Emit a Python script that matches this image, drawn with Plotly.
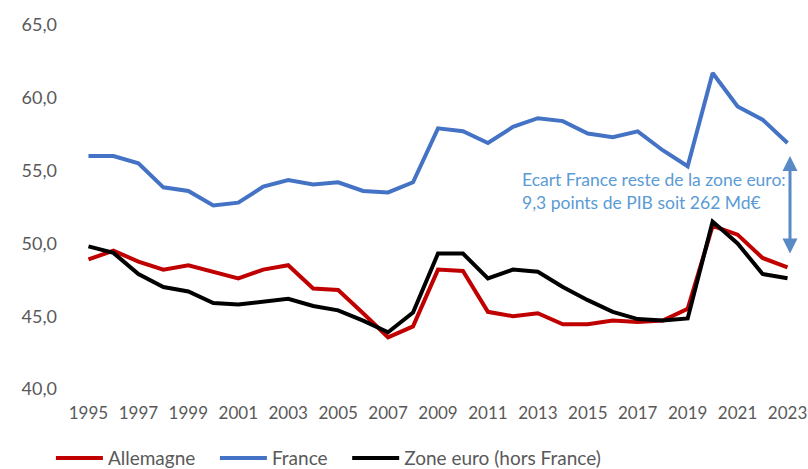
import plotly.graph_objects as go

years = list(range(1995, 2024))
allemagne = [48.9, 49.5, 48.75, 48.2, 48.5, 48.05, 47.6, 48.2, 48.5, 46.9, 46.8, 45.2, 43.55, 44.3,
             48.2, 48.1, 45.3, 45.0, 45.2, 44.45, 44.45, 44.7, 44.6, 44.7, 45.5, 51.2, 50.6, 49.0, 48.35]
france = [56.0, 56.0, 55.5, 53.85, 53.6, 52.6, 52.8, 53.9, 54.35, 54.05, 54.2, 53.6, 53.5, 54.2,
          57.9, 57.7, 56.9, 58.0, 58.6, 58.4, 57.55, 57.3, 57.7, 56.4, 55.3, 61.7, 59.4, 58.5, 56.9]
zone_euro = [49.8, 49.35, 47.9, 47.0, 46.7, 45.9, 45.8, 46.0, 46.2, 45.7, 45.4, 44.7, 43.9, 45.25,
             49.3, 49.3, 47.6, 48.2, 48.05, 47.0, 46.1, 45.3, 44.8, 44.7, 44.85, 51.5, 50.0, 47.9, 47.6]
series_names = ["Allemagne", "France", "Zone euro (hors France)"]
x_ticks = list(range(1995, 2024, 2))
y_ticks = [40, 45, 50, 55, 60, 65]
note_lines = ["Ecart France reste de la zone euro:", "9,3 points de PIB soit 262 Md€"]

colors = ["#c00000", "#4472c4", "#000000"]
font_family = "Lato, 'Open Sans', sans-serif"
legend_pad = "\u00a0" * 3  # extra spacing between legend entries

fig = go.Figure()
for name, vals, col in zip(series_names, [allemagne, france, zone_euro], colors):
    fig.add_trace(go.Scatter(x=years, y=vals, name=name + legend_pad, mode="lines",
                             line=dict(color=col, width=4)))

fig.add_annotation(x=2023.1, y=56.0, ax=2023.1, ay=49.2, xref="x", yref="y", axref="x", ayref="y",
                   showarrow=True, arrowhead=2, startarrowhead=2, arrowside="end+start",
                   arrowsize=1, arrowwidth=3, arrowcolor="#5a8ac6", text="")
fig.add_annotation(x=2012.3, y=53.6, xref="x", yref="y", text="<br>".join(note_lines),
                   showarrow=False, xanchor="left", yanchor="middle", align="left",
                   font=dict(family=font_family, size=17.5, color="#5b9bd5"))

fig.update_layout(
    width=808, height=469,
    margin=dict(l=76, r=8, t=25, b=80, autoexpand=False),
    paper_bgcolor="white", plot_bgcolor="white",
    separators=", ",
    font=dict(family=font_family, size=18, color="#595959"),
    showlegend=True,
    legend=dict(orientation="h", xref="container", x=0.063, xanchor="left",
                yref="container", y=0.023, yanchor="middle", itemwidth=47,
                font=dict(size=19, color="#595959")),
)
fig.update_xaxes(range=[1994.5, 2023.5], tickvals=x_ticks, ticktext=[str(v) for v in x_ticks],
                 showgrid=False, zeroline=False, showline=False, ticks="", ticklabelstandoff=12,
                 automargin=False, ticklabeloverflow="allow", tickfont=dict(size=17))
fig.update_yaxes(range=[40, 65], tickvals=y_ticks, tickformat=".1f",
                 showgrid=False, zeroline=False, showline=False, ticks="", ticklabelstandoff=18,
                 automargin=False)

fig.write_html("out.html", config={"displayModeBar": False},
               post_script="document.body.style.margin='0';document.body.style.overflow='hidden';")
